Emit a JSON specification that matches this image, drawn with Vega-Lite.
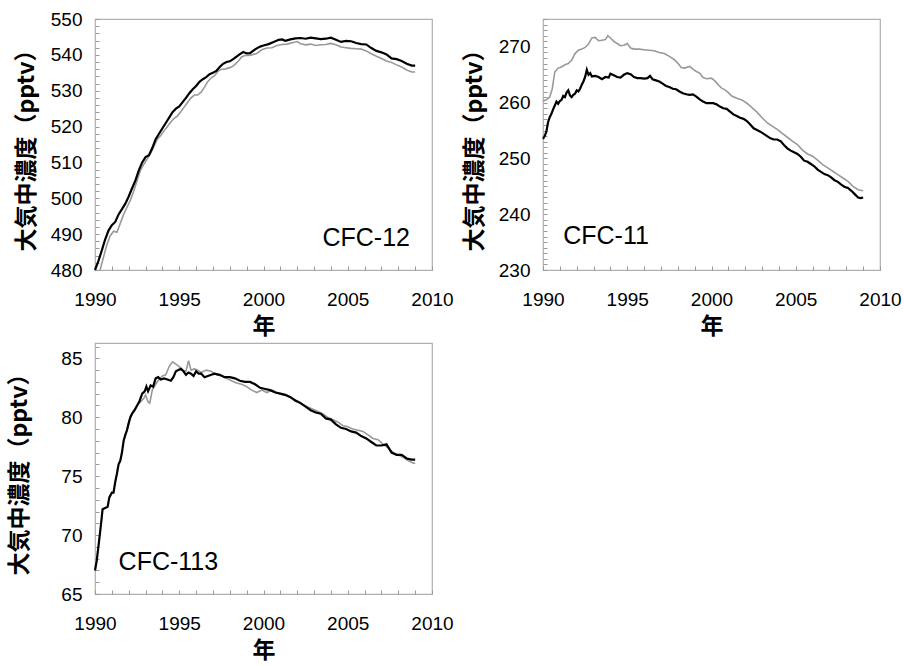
{
  "$schema": "https://vega.github.io/schema/vega-lite/v6.json",
  "background": "white",
  "padding": {"left": 8, "top": 9, "right": 5, "bottom": 0},
  "config": {
    "view": {"stroke": "#b0b0b0", "strokeWidth": 1.2},
    "axis": {
      "grid": false,
      "domain": false,
      "tickColor": "#9a9a9a",
      "tickSize": -4,
      "labelFont": "Liberation Sans",
      "labelFontSize": 19,
      "labelColor": "#000",
      "labelFlush": false,
      "titleFont": "Noto Sans CJK JP",
      "titleFontSize": 23,
      "titleFontWeight": "bold",
      "titleColor": "#000",
      "labelOverlap": false
    },
    "axisX": {"labelPadding": 24, "titlePadding": 6},
    "axisY": {"labelPadding": 17, "titlePadding": 12}
  },
  "datasets": {
    "cfc12": [
      {"x":1990.0,"y":480.0,"s":"a"},{"x":1990.2,"y":482.5,"s":"a"},{"x":1990.4,"y":485.4,"s":"a"},{"x":1990.6,"y":488.5,"s":"a"},{"x":1990.8,"y":491.0,"s":"a"},{"x":1991.0,"y":492.5,"s":"a"},{"x":1991.2,"y":493.4,"s":"a"},{"x":1991.4,"y":495.5,"s":"a"},{"x":1991.6,"y":497.0,"s":"a"},{"x":1991.8,"y":498.5,"s":"a"},{"x":1992.0,"y":500.5,"s":"a"},{"x":1992.2,"y":502.8,"s":"a"},{"x":1992.4,"y":505.0,"s":"a"},{"x":1992.6,"y":507.8,"s":"a"},{"x":1992.8,"y":510.0,"s":"a"},{"x":1993.0,"y":511.5,"s":"a"},{"x":1993.2,"y":512.0,"s":"a"},{"x":1993.4,"y":514.0,"s":"a"},{"x":1993.6,"y":516.5,"s":"a"},{"x":1993.8,"y":518.0,"s":"a"},{"x":1994.0,"y":519.5,"s":"a"},{"x":1994.2,"y":521.0,"s":"a"},{"x":1994.4,"y":522.5,"s":"a"},{"x":1994.6,"y":524.0,"s":"a"},{"x":1994.8,"y":525.0,"s":"a"},{"x":1995.0,"y":525.6,"s":"a"},{"x":1995.2,"y":526.8,"s":"a"},{"x":1995.4,"y":528.0,"s":"a"},{"x":1995.6,"y":529.3,"s":"a"},{"x":1995.8,"y":530.4,"s":"a"},{"x":1996.0,"y":531.3,"s":"a"},{"x":1996.2,"y":532.5,"s":"a"},{"x":1996.4,"y":533.2,"s":"a"},{"x":1996.6,"y":533.8,"s":"a"},{"x":1996.8,"y":534.6,"s":"a"},{"x":1997.0,"y":535.0,"s":"a"},{"x":1997.2,"y":535.5,"s":"a"},{"x":1997.4,"y":536.6,"s":"a"},{"x":1997.6,"y":537.5,"s":"a"},{"x":1997.8,"y":538.0,"s":"a"},{"x":1998.0,"y":538.2,"s":"a"},{"x":1998.2,"y":538.8,"s":"a"},{"x":1998.4,"y":539.5,"s":"a"},{"x":1998.6,"y":540.2,"s":"a"},{"x":1998.8,"y":540.8,"s":"a"},{"x":1999.0,"y":540.4,"s":"a"},{"x":1999.2,"y":540.5,"s":"a"},{"x":1999.4,"y":541.2,"s":"a"},{"x":1999.6,"y":541.8,"s":"a"},{"x":1999.8,"y":542.3,"s":"a"},{"x":2000.0,"y":542.6,"s":"a"},{"x":2000.3,"y":543.0,"s":"a"},{"x":2000.6,"y":543.6,"s":"a"},{"x":2000.9,"y":544.2,"s":"a"},{"x":2001.1,"y":544.3,"s":"a"},{"x":2001.3,"y":543.9,"s":"a"},{"x":2001.6,"y":544.3,"s":"a"},{"x":2001.9,"y":544.6,"s":"a"},{"x":2002.2,"y":544.7,"s":"a"},{"x":2002.5,"y":544.5,"s":"a"},{"x":2002.8,"y":544.8,"s":"a"},{"x":2003.1,"y":544.6,"s":"a"},{"x":2003.4,"y":544.4,"s":"a"},{"x":2003.7,"y":544.5,"s":"a"},{"x":2004.0,"y":544.8,"s":"a"},{"x":2004.3,"y":544.2,"s":"a"},{"x":2004.6,"y":543.6,"s":"a"},{"x":2004.9,"y":543.9,"s":"a"},{"x":2005.2,"y":543.8,"s":"a"},{"x":2005.5,"y":543.3,"s":"a"},{"x":2005.8,"y":543.0,"s":"a"},{"x":2006.1,"y":542.9,"s":"a"},{"x":2006.4,"y":541.9,"s":"a"},{"x":2006.7,"y":541.1,"s":"a"},{"x":2007.0,"y":540.7,"s":"a"},{"x":2007.3,"y":540.1,"s":"a"},{"x":2007.6,"y":539.0,"s":"a"},{"x":2007.9,"y":538.8,"s":"a"},{"x":2008.2,"y":538.3,"s":"a"},{"x":2008.5,"y":537.5,"s":"a"},{"x":2008.8,"y":537.0,"s":"a"},{"x":2009.0,"y":537.0,"s":"a"},
      {"x":1990.3,"y":480.0,"s":"b"},{"x":1990.5,"y":483.5,"s":"b"},{"x":1990.7,"y":487.0,"s":"b"},{"x":1990.9,"y":489.5,"s":"b"},{"x":1991.1,"y":490.8,"s":"b"},{"x":1991.3,"y":490.5,"s":"b"},{"x":1991.5,"y":493.0,"s":"b"},{"x":1991.7,"y":495.5,"s":"b"},{"x":1991.9,"y":497.5,"s":"b"},{"x":1992.1,"y":499.5,"s":"b"},{"x":1992.3,"y":502.0,"s":"b"},{"x":1992.5,"y":505.0,"s":"b"},{"x":1992.7,"y":507.8,"s":"b"},{"x":1992.9,"y":509.5,"s":"b"},{"x":1993.1,"y":511.0,"s":"b"},{"x":1993.3,"y":512.5,"s":"b"},{"x":1993.5,"y":514.5,"s":"b"},{"x":1993.7,"y":516.5,"s":"b"},{"x":1993.9,"y":517.5,"s":"b"},{"x":1994.1,"y":518.8,"s":"b"},{"x":1994.3,"y":520.0,"s":"b"},{"x":1994.5,"y":521.3,"s":"b"},{"x":1994.7,"y":522.3,"s":"b"},{"x":1994.9,"y":523.0,"s":"b"},{"x":1995.1,"y":524.2,"s":"b"},{"x":1995.3,"y":525.5,"s":"b"},{"x":1995.5,"y":526.8,"s":"b"},{"x":1995.7,"y":528.0,"s":"b"},{"x":1995.9,"y":528.8,"s":"b"},{"x":1996.1,"y":528.8,"s":"b"},{"x":1996.3,"y":529.6,"s":"b"},{"x":1996.5,"y":531.0,"s":"b"},{"x":1996.7,"y":532.6,"s":"b"},{"x":1996.9,"y":533.6,"s":"b"},{"x":1997.1,"y":534.2,"s":"b"},{"x":1997.3,"y":535.4,"s":"b"},{"x":1997.5,"y":536.0,"s":"b"},{"x":1997.7,"y":536.0,"s":"b"},{"x":1997.9,"y":536.3,"s":"b"},{"x":1998.1,"y":536.6,"s":"b"},{"x":1998.3,"y":537.3,"s":"b"},{"x":1998.5,"y":538.2,"s":"b"},{"x":1998.7,"y":539.4,"s":"b"},{"x":1998.9,"y":539.8,"s":"b"},{"x":1999.1,"y":539.8,"s":"b"},{"x":1999.3,"y":540.0,"s":"b"},{"x":1999.6,"y":540.4,"s":"b"},{"x":1999.9,"y":541.4,"s":"b"},{"x":2000.2,"y":541.9,"s":"b"},{"x":2000.5,"y":542.0,"s":"b"},{"x":2000.8,"y":542.6,"s":"b"},{"x":2001.1,"y":542.9,"s":"b"},{"x":2001.4,"y":543.0,"s":"b"},{"x":2001.7,"y":543.4,"s":"b"},{"x":2002.0,"y":543.7,"s":"b"},{"x":2002.2,"y":543.1,"s":"b"},{"x":2002.5,"y":542.8,"s":"b"},{"x":2002.8,"y":543.0,"s":"b"},{"x":2003.1,"y":542.6,"s":"b"},{"x":2003.4,"y":542.8,"s":"b"},{"x":2003.7,"y":542.9,"s":"b"},{"x":2004.0,"y":543.2,"s":"b"},{"x":2004.3,"y":542.8,"s":"b"},{"x":2004.6,"y":542.2,"s":"b"},{"x":2004.9,"y":542.0,"s":"b"},{"x":2005.2,"y":541.8,"s":"b"},{"x":2005.5,"y":541.7,"s":"b"},{"x":2005.8,"y":541.6,"s":"b"},{"x":2006.1,"y":541.1,"s":"b"},{"x":2006.4,"y":540.3,"s":"b"},{"x":2006.7,"y":539.6,"s":"b"},{"x":2007.0,"y":539.0,"s":"b"},{"x":2007.3,"y":538.3,"s":"b"},{"x":2007.6,"y":537.9,"s":"b"},{"x":2007.9,"y":537.2,"s":"b"},{"x":2008.2,"y":536.6,"s":"b"},{"x":2008.5,"y":535.8,"s":"b"},{"x":2008.8,"y":535.2,"s":"b"},{"x":2009.0,"y":535.2,"s":"b"}
    ],
    "cfc11": [
      {"x":1990.0,"y":260.3,"s":"b"},{"x":1990.2,"y":260.5,"s":"b"},{"x":1990.4,"y":261.0,"s":"b"},{"x":1990.55,"y":262.5,"s":"b"},{"x":1990.7,"y":265.5,"s":"b"},{"x":1990.9,"y":266.2,"s":"b"},{"x":1991.1,"y":266.4,"s":"b"},{"x":1991.3,"y":266.8,"s":"b"},{"x":1991.5,"y":267.0,"s":"b"},{"x":1991.7,"y":267.6,"s":"b"},{"x":1991.9,"y":268.8,"s":"b"},{"x":1992.1,"y":269.4,"s":"b"},{"x":1992.3,"y":269.6,"s":"b"},{"x":1992.5,"y":269.9,"s":"b"},{"x":1992.7,"y":270.5,"s":"b"},{"x":1992.9,"y":271.6,"s":"b"},{"x":1993.1,"y":271.7,"s":"b"},{"x":1993.3,"y":271.1,"s":"b"},{"x":1993.5,"y":271.2,"s":"b"},{"x":1993.7,"y":271.3,"s":"b"},{"x":1993.85,"y":272.0,"s":"b"},{"x":1994.0,"y":271.6,"s":"b"},{"x":1994.2,"y":271.0,"s":"b"},{"x":1994.4,"y":270.6,"s":"b"},{"x":1994.6,"y":270.2,"s":"b"},{"x":1994.8,"y":270.3,"s":"b"},{"x":1995.0,"y":270.6,"s":"b"},{"x":1995.2,"y":269.8,"s":"b"},{"x":1995.4,"y":269.6,"s":"b"},{"x":1995.7,"y":269.6,"s":"b"},{"x":1996.0,"y":269.5,"s":"b"},{"x":1996.3,"y":269.4,"s":"b"},{"x":1996.6,"y":269.3,"s":"b"},{"x":1996.9,"y":269.0,"s":"b"},{"x":1997.2,"y":268.8,"s":"b"},{"x":1997.5,"y":268.3,"s":"b"},{"x":1997.8,"y":267.7,"s":"b"},{"x":1998.0,"y":267.1,"s":"b"},{"x":1998.2,"y":266.3,"s":"b"},{"x":1998.4,"y":266.2,"s":"b"},{"x":1998.7,"y":266.5,"s":"b"},{"x":1998.9,"y":266.0,"s":"b"},{"x":1999.1,"y":265.6,"s":"b"},{"x":1999.3,"y":265.3,"s":"b"},{"x":1999.5,"y":264.5,"s":"b"},{"x":1999.7,"y":264.3,"s":"b"},{"x":2000.0,"y":264.4,"s":"b"},{"x":2000.2,"y":263.9,"s":"b"},{"x":2000.4,"y":263.2,"s":"b"},{"x":2000.6,"y":262.6,"s":"b"},{"x":2000.8,"y":262.3,"s":"b"},{"x":2001.0,"y":261.8,"s":"b"},{"x":2001.2,"y":261.2,"s":"b"},{"x":2001.5,"y":260.8,"s":"b"},{"x":2001.8,"y":260.5,"s":"b"},{"x":2002.1,"y":259.9,"s":"b"},{"x":2002.4,"y":259.1,"s":"b"},{"x":2002.7,"y":258.3,"s":"b"},{"x":2003.0,"y":257.3,"s":"b"},{"x":2003.3,"y":256.4,"s":"b"},{"x":2003.6,"y":255.8,"s":"b"},{"x":2003.9,"y":255.2,"s":"b"},{"x":2004.2,"y":254.5,"s":"b"},{"x":2004.5,"y":253.8,"s":"b"},{"x":2004.8,"y":253.1,"s":"b"},{"x":2005.1,"y":252.5,"s":"b"},{"x":2005.4,"y":251.5,"s":"b"},{"x":2005.7,"y":250.8,"s":"b"},{"x":2006.0,"y":250.4,"s":"b"},{"x":2006.3,"y":249.7,"s":"b"},{"x":2006.6,"y":248.9,"s":"b"},{"x":2006.9,"y":248.3,"s":"b"},{"x":2007.2,"y":247.7,"s":"b"},{"x":2007.5,"y":247.1,"s":"b"},{"x":2007.8,"y":246.5,"s":"b"},{"x":2008.1,"y":245.9,"s":"b"},{"x":2008.4,"y":245.0,"s":"b"},{"x":2008.7,"y":244.4,"s":"b"},{"x":2009.0,"y":244.2,"s":"b"},
      {"x":1990.0,"y":253.5,"s":"a"},{"x":1990.1,"y":254.0,"s":"a"},{"x":1990.2,"y":254.8,"s":"a"},{"x":1990.3,"y":256.5,"s":"a"},{"x":1990.4,"y":257.4,"s":"a"},{"x":1990.5,"y":258.0,"s":"a"},{"x":1990.6,"y":258.8,"s":"a"},{"x":1990.7,"y":259.5,"s":"a"},{"x":1990.8,"y":260.2,"s":"a"},{"x":1990.9,"y":259.8,"s":"a"},{"x":1991.0,"y":260.3,"s":"a"},{"x":1991.1,"y":260.5,"s":"a"},{"x":1991.2,"y":261.2,"s":"a"},{"x":1991.3,"y":261.0,"s":"a"},{"x":1991.4,"y":261.8,"s":"a"},{"x":1991.5,"y":262.2,"s":"a"},{"x":1991.6,"y":261.3,"s":"a"},{"x":1991.7,"y":261.0,"s":"a"},{"x":1991.8,"y":261.4,"s":"a"},{"x":1991.9,"y":261.6,"s":"a"},{"x":1992.0,"y":262.2,"s":"a"},{"x":1992.1,"y":262.0,"s":"a"},{"x":1992.2,"y":262.5,"s":"a"},{"x":1992.3,"y":263.2,"s":"a"},{"x":1992.4,"y":263.8,"s":"a"},{"x":1992.5,"y":264.6,"s":"a"},{"x":1992.6,"y":265.9,"s":"a"},{"x":1992.7,"y":265.0,"s":"a"},{"x":1992.8,"y":265.3,"s":"a"},{"x":1992.9,"y":264.7,"s":"a"},{"x":1993.1,"y":264.8,"s":"a"},{"x":1993.3,"y":264.6,"s":"a"},{"x":1993.5,"y":264.2,"s":"a"},{"x":1993.7,"y":264.6,"s":"a"},{"x":1993.9,"y":264.5,"s":"a"},{"x":1994.0,"y":265.2,"s":"a"},{"x":1994.2,"y":264.9,"s":"a"},{"x":1994.4,"y":264.6,"s":"a"},{"x":1994.6,"y":264.5,"s":"a"},{"x":1994.8,"y":265.0,"s":"a"},{"x":1995.0,"y":265.3,"s":"a"},{"x":1995.2,"y":265.1,"s":"a"},{"x":1995.4,"y":264.6,"s":"a"},{"x":1995.6,"y":264.4,"s":"a"},{"x":1995.8,"y":264.4,"s":"a"},{"x":1996.0,"y":264.3,"s":"a"},{"x":1996.2,"y":264.4,"s":"a"},{"x":1996.35,"y":264.8,"s":"a"},{"x":1996.5,"y":264.2,"s":"a"},{"x":1996.7,"y":264.0,"s":"a"},{"x":1996.9,"y":263.8,"s":"a"},{"x":1997.1,"y":263.4,"s":"a"},{"x":1997.3,"y":263.0,"s":"a"},{"x":1997.5,"y":262.8,"s":"a"},{"x":1997.7,"y":262.5,"s":"a"},{"x":1997.9,"y":262.4,"s":"a"},{"x":1998.1,"y":262.0,"s":"a"},{"x":1998.3,"y":261.7,"s":"a"},{"x":1998.5,"y":261.5,"s":"a"},{"x":1998.7,"y":261.4,"s":"a"},{"x":1998.9,"y":261.5,"s":"a"},{"x":1999.1,"y":261.1,"s":"a"},{"x":1999.3,"y":260.6,"s":"a"},{"x":1999.5,"y":260.2,"s":"a"},{"x":1999.7,"y":259.9,"s":"a"},{"x":1999.9,"y":259.9,"s":"a"},{"x":2000.1,"y":259.9,"s":"a"},{"x":2000.3,"y":259.7,"s":"a"},{"x":2000.5,"y":259.3,"s":"a"},{"x":2000.7,"y":259.0,"s":"a"},{"x":2000.9,"y":258.9,"s":"a"},{"x":2001.1,"y":258.4,"s":"a"},{"x":2001.3,"y":257.9,"s":"a"},{"x":2001.5,"y":257.6,"s":"a"},{"x":2001.7,"y":257.3,"s":"a"},{"x":2001.9,"y":257.1,"s":"a"},{"x":2002.1,"y":256.7,"s":"a"},{"x":2002.3,"y":256.1,"s":"a"},{"x":2002.5,"y":255.4,"s":"a"},{"x":2002.7,"y":255.1,"s":"a"},{"x":2002.9,"y":254.8,"s":"a"},{"x":2003.1,"y":254.4,"s":"a"},{"x":2003.3,"y":254.0,"s":"a"},{"x":2003.5,"y":253.6,"s":"a"},{"x":2003.7,"y":253.4,"s":"a"},{"x":2003.9,"y":253.4,"s":"a"},{"x":2004.1,"y":253.1,"s":"a"},{"x":2004.3,"y":252.4,"s":"a"},{"x":2004.5,"y":251.8,"s":"a"},{"x":2004.7,"y":251.4,"s":"a"},{"x":2004.9,"y":251.1,"s":"a"},{"x":2005.1,"y":250.8,"s":"a"},{"x":2005.3,"y":250.3,"s":"a"},{"x":2005.5,"y":249.6,"s":"a"},{"x":2005.7,"y":249.4,"s":"a"},{"x":2005.9,"y":249.0,"s":"a"},{"x":2006.1,"y":248.6,"s":"a"},{"x":2006.3,"y":248.0,"s":"a"},{"x":2006.5,"y":247.6,"s":"a"},{"x":2006.7,"y":247.2,"s":"a"},{"x":2006.9,"y":247.0,"s":"a"},{"x":2007.1,"y":246.6,"s":"a"},{"x":2007.3,"y":246.1,"s":"a"},{"x":2007.5,"y":245.8,"s":"a"},{"x":2007.7,"y":245.3,"s":"a"},{"x":2007.9,"y":244.9,"s":"a"},{"x":2008.1,"y":244.7,"s":"a"},{"x":2008.3,"y":244.2,"s":"a"},{"x":2008.5,"y":243.6,"s":"a"},{"x":2008.7,"y":243.0,"s":"a"},{"x":2008.85,"y":242.9,"s":"a"},{"x":2009.0,"y":243.0,"s":"a"}
    ],
    "cfc113": [
      {"x":1990.0,"y":67.0,"s":"a"},{"x":1990.1,"y":67.8,"s":"a"},{"x":1990.2,"y":69.0,"s":"a"},{"x":1990.3,"y":70.2,"s":"a"},{"x":1990.4,"y":71.5,"s":"a"},{"x":1990.45,"y":72.2,"s":"a"},{"x":1990.6,"y":72.3,"s":"a"},{"x":1990.75,"y":72.4,"s":"a"},{"x":1990.85,"y":73.2,"s":"a"},{"x":1991.0,"y":73.6,"s":"a"},{"x":1991.1,"y":73.6,"s":"a"},{"x":1991.2,"y":74.5,"s":"a"},{"x":1991.3,"y":75.2,"s":"a"},{"x":1991.4,"y":76.0,"s":"a"},{"x":1991.5,"y":76.3,"s":"a"},{"x":1991.6,"y":77.0,"s":"a"},{"x":1991.7,"y":78.0,"s":"a"},{"x":1991.8,"y":78.5,"s":"a"},{"x":1991.9,"y":78.9,"s":"a"},{"x":1992.0,"y":79.5,"s":"a"},{"x":1992.1,"y":80.0,"s":"a"},{"x":1992.2,"y":80.3,"s":"a"},{"x":1992.35,"y":80.6,"s":"a"},{"x":1992.5,"y":81.0,"s":"a"},{"x":1992.65,"y":81.4,"s":"a"},{"x":1992.8,"y":82.0,"s":"a"},{"x":1992.95,"y":82.2,"s":"a"},{"x":1993.05,"y":82.6,"s":"a"},{"x":1993.15,"y":82.2,"s":"a"},{"x":1993.3,"y":82.7,"s":"a"},{"x":1993.45,"y":82.6,"s":"a"},{"x":1993.6,"y":83.3,"s":"a"},{"x":1993.75,"y":83.4,"s":"a"},{"x":1993.9,"y":83.2,"s":"a"},{"x":1994.1,"y":83.3,"s":"a"},{"x":1994.3,"y":83.2,"s":"a"},{"x":1994.5,"y":83.1,"s":"a"},{"x":1994.65,"y":83.4,"s":"a"},{"x":1994.8,"y":83.9,"s":"a"},{"x":1994.95,"y":84.0,"s":"a"},{"x":1995.1,"y":84.1,"s":"a"},{"x":1995.25,"y":83.9,"s":"a"},{"x":1995.4,"y":83.6,"s":"a"},{"x":1995.55,"y":83.8,"s":"a"},{"x":1995.7,"y":83.7,"s":"a"},{"x":1995.85,"y":83.5,"s":"a"},{"x":1996.0,"y":83.9,"s":"a"},{"x":1996.15,"y":83.7,"s":"a"},{"x":1996.3,"y":83.7,"s":"a"},{"x":1996.5,"y":83.4,"s":"a"},{"x":1996.7,"y":83.5,"s":"a"},{"x":1996.9,"y":83.6,"s":"a"},{"x":1997.1,"y":83.7,"s":"a"},{"x":1997.4,"y":83.6,"s":"a"},{"x":1997.7,"y":83.4,"s":"a"},{"x":1998.0,"y":83.4,"s":"a"},{"x":1998.3,"y":83.3,"s":"a"},{"x":1998.6,"y":83.1,"s":"a"},{"x":1998.9,"y":83.0,"s":"a"},{"x":1999.2,"y":83.0,"s":"a"},{"x":1999.5,"y":82.8,"s":"a"},{"x":1999.8,"y":82.5,"s":"a"},{"x":2000.1,"y":82.4,"s":"a"},{"x":2000.4,"y":82.3,"s":"a"},{"x":2000.7,"y":82.1,"s":"a"},{"x":2001.0,"y":82.0,"s":"a"},{"x":2001.3,"y":81.9,"s":"a"},{"x":2001.6,"y":81.7,"s":"a"},{"x":2001.9,"y":81.4,"s":"a"},{"x":2002.2,"y":81.2,"s":"a"},{"x":2002.5,"y":80.9,"s":"a"},{"x":2002.8,"y":80.6,"s":"a"},{"x":2003.1,"y":80.4,"s":"a"},{"x":2003.4,"y":80.3,"s":"a"},{"x":2003.7,"y":79.9,"s":"a"},{"x":2004.0,"y":79.8,"s":"a"},{"x":2004.3,"y":79.4,"s":"a"},{"x":2004.6,"y":79.1,"s":"a"},{"x":2004.9,"y":79.0,"s":"a"},{"x":2005.2,"y":78.8,"s":"a"},{"x":2005.5,"y":78.7,"s":"a"},{"x":2005.8,"y":78.4,"s":"a"},{"x":2006.1,"y":78.2,"s":"a"},{"x":2006.4,"y":77.9,"s":"a"},{"x":2006.7,"y":77.6,"s":"a"},{"x":2007.0,"y":77.6,"s":"a"},{"x":2007.3,"y":77.7,"s":"a"},{"x":2007.6,"y":77.0,"s":"a"},{"x":2007.9,"y":76.8,"s":"a"},{"x":2008.2,"y":76.8,"s":"a"},{"x":2008.5,"y":76.5,"s":"a"},{"x":2008.8,"y":76.4,"s":"a"},{"x":2009.0,"y":76.4,"s":"a"},
      {"x":1991.9,"y":79.0,"s":"b"},{"x":1992.1,"y":80.1,"s":"b"},{"x":1992.3,"y":80.6,"s":"b"},{"x":1992.5,"y":81.0,"s":"b"},{"x":1992.7,"y":81.3,"s":"b"},{"x":1992.9,"y":81.6,"s":"b"},{"x":1993.0,"y":81.9,"s":"b"},{"x":1993.15,"y":81.3,"s":"b"},{"x":1993.25,"y":81.2,"s":"b"},{"x":1993.4,"y":82.3,"s":"b"},{"x":1993.6,"y":82.8,"s":"b"},{"x":1993.8,"y":83.2,"s":"b"},{"x":1994.0,"y":83.5,"s":"b"},{"x":1994.2,"y":83.6,"s":"b"},{"x":1994.4,"y":84.3,"s":"b"},{"x":1994.6,"y":84.7,"s":"b"},{"x":1994.8,"y":84.5,"s":"b"},{"x":1995.0,"y":84.3,"s":"b"},{"x":1995.2,"y":84.0,"s":"b"},{"x":1995.4,"y":83.9,"s":"b"},{"x":1995.55,"y":84.8,"s":"b"},{"x":1995.7,"y":84.0,"s":"b"},{"x":1995.9,"y":84.1,"s":"b"},{"x":1996.1,"y":84.0,"s":"b"},{"x":1996.3,"y":83.8,"s":"b"},{"x":1996.6,"y":84.0,"s":"b"},{"x":1996.9,"y":83.9,"s":"b"},{"x":1997.2,"y":83.6,"s":"b"},{"x":1997.5,"y":83.5,"s":"b"},{"x":1997.8,"y":83.3,"s":"b"},{"x":1998.1,"y":83.1,"s":"b"},{"x":1998.4,"y":82.9,"s":"b"},{"x":1998.7,"y":82.8,"s":"b"},{"x":1999.0,"y":82.6,"s":"b"},{"x":1999.3,"y":82.3,"s":"b"},{"x":1999.6,"y":82.1,"s":"b"},{"x":1999.9,"y":82.3,"s":"b"},{"x":2000.2,"y":82.1,"s":"b"},{"x":2000.5,"y":82.3,"s":"b"},{"x":2000.8,"y":82.1,"s":"b"},{"x":2001.1,"y":81.9,"s":"b"},{"x":2001.4,"y":81.8,"s":"b"},{"x":2001.7,"y":81.6,"s":"b"},{"x":2002.0,"y":81.4,"s":"b"},{"x":2002.3,"y":81.1,"s":"b"},{"x":2002.6,"y":80.9,"s":"b"},{"x":2002.9,"y":80.7,"s":"b"},{"x":2003.2,"y":80.5,"s":"b"},{"x":2003.5,"y":80.3,"s":"b"},{"x":2003.8,"y":80.0,"s":"b"},{"x":2004.1,"y":79.8,"s":"b"},{"x":2004.4,"y":79.6,"s":"b"},{"x":2004.7,"y":79.3,"s":"b"},{"x":2005.0,"y":79.2,"s":"b"},{"x":2005.3,"y":79.0,"s":"b"},{"x":2005.6,"y":78.9,"s":"b"},{"x":2005.9,"y":78.8,"s":"b"},{"x":2006.2,"y":78.5,"s":"b"},{"x":2006.5,"y":78.2,"s":"b"},{"x":2006.8,"y":78.1,"s":"b"},{"x":2007.1,"y":77.7,"s":"b"},{"x":2007.4,"y":77.4,"s":"b"},{"x":2007.7,"y":77.0,"s":"b"},{"x":2008.0,"y":76.8,"s":"b"},{"x":2008.3,"y":76.6,"s":"b"},{"x":2008.6,"y":76.3,"s":"b"},{"x":2008.9,"y":76.1,"s":"b"},{"x":2009.0,"y":76.1,"s":"b"}
    ]
  },
  "spacing": -3,
  "vconcat": [
    {
      "spacing": 8,
      "hconcat": [
        {
          "width": 337, "height": 251,
          "layer": [
            {
              "data": {"name": "cfc12"},
              "transform": [{"filter": "datum.s == 'b'"}],
              "mark": {"type": "line", "color": "#999999", "strokeWidth": 1.6},
              "encoding": {
                "x": {"field": "x", "type": "quantitative", "title": "年", "scale": {"domain": [1990, 2010], "nice": false},
                  "axis": {"tickCount": 100, "labelOverlap": false, "values": [1990,1991,1992,1993,1994,1995,1996,1997,1998,1999,2000,2001,2002,2003,2004,2005,2006,2007,2008,2009,2010], "labelExpr": "datum.value % 5 == 0 ? datum.value : ''"}},
                "y": {"field": "y", "type": "quantitative", "title": "大気中濃度（pptv）", "scale": {"domain": [480, 550], "nice": false, "zero": false},
                  "axis": {"tickCount": 100, "labelOverlap": false, "values": [480,482,484,486,488,490,492,494,496,498,500,502,504,506,508,510,512,514,516,518,520,522,524,526,528,530,532,534,536,538,540,542,544,546,548,550], "labelExpr": "datum.value % 10 == 0 ? datum.value : ''"}}
              }
            },
            {
              "data": {"name": "cfc12"},
              "transform": [{"filter": "datum.s == 'a'"}],
              "mark": {"type": "line", "color": "#000000", "strokeWidth": 2.2},
              "encoding": {"x": {"field": "x", "type": "quantitative"}, "y": {"field": "y", "type": "quantitative"}}
            },
            {
              "data": {"values": [{"label": "CFC-12"}]},
              "mark": {"type": "text", "align": "left", "baseline": "alphabetic", "font": "Liberation Sans", "fontSize": 25, "color": "#000"},
              "encoding": {"x": {"datum": 2003.5}, "y": {"datum": 486.7}, "text": {"field": "label"}}
            }
          ]
        },
        {
          "width": 337, "height": 251,
          "layer": [
            {
              "data": {"name": "cfc11"},
              "transform": [{"filter": "datum.s == 'b'"}],
              "mark": {"type": "line", "color": "#999999", "strokeWidth": 1.6},
              "encoding": {
                "x": {"field": "x", "type": "quantitative", "title": "年", "scale": {"domain": [1990, 2010], "nice": false},
                  "axis": {"tickCount": 100, "labelOverlap": false, "values": [1990,1991,1992,1993,1994,1995,1996,1997,1998,1999,2000,2001,2002,2003,2004,2005,2006,2007,2008,2009,2010], "labelExpr": "datum.value % 5 == 0 ? datum.value : ''"}},
                "y": {"field": "y", "type": "quantitative", "title": "大気中濃度（pptv）", "scale": {"domain": [230, 275], "nice": false, "zero": false},
                  "axis": {"tickCount": 100, "labelOverlap": false, "values": [230,231,232,233,234,235,236,237,238,239,240,241,242,243,244,245,246,247,248,249,250,251,252,253,254,255,256,257,258,259,260,261,262,263,264,265,266,267,268,269,270,271,272,273,274,275], "labelExpr": "datum.value % 10 == 0 ? datum.value : ''"}}
              }
            },
            {
              "data": {"name": "cfc11"},
              "transform": [{"filter": "datum.s == 'a'"}],
              "mark": {"type": "line", "color": "#000000", "strokeWidth": 2.2},
              "encoding": {"x": {"field": "x", "type": "quantitative"}, "y": {"field": "y", "type": "quantitative"}}
            },
            {
              "data": {"values": [{"label": "CFC-11"}]},
              "mark": {"type": "text", "align": "left", "baseline": "alphabetic", "font": "Liberation Sans", "fontSize": 25, "color": "#000"},
              "encoding": {"x": {"datum": 1991.2}, "y": {"datum": 234.7}, "text": {"field": "label"}}
            }
          ]
        }
      ]
    },
    {
      "width": 337, "height": 251,
      "layer": [
        {
          "data": {"name": "cfc113"},
          "transform": [{"filter": "datum.s == 'b'"}],
          "mark": {"type": "line", "color": "#999999", "strokeWidth": 1.6},
          "encoding": {
            "x": {"field": "x", "type": "quantitative", "title": "年", "scale": {"domain": [1990, 2010], "nice": false},
              "axis": {"tickCount": 100, "labelOverlap": false, "values": [1990,1991,1992,1993,1994,1995,1996,1997,1998,1999,2000,2001,2002,2003,2004,2005,2006,2007,2008,2009,2010], "labelExpr": "datum.value % 5 == 0 ? datum.value : ''"}},
            "y": {"field": "y", "type": "quantitative", "title": "大気中濃度（pptv）", "scale": {"domain": [65, 86.3], "nice": false, "zero": false},
              "axis": {"tickCount": 100, "labelOverlap": false, "titlePadding": 29, "values": [65,66,67,68,69,70,71,72,73,74,75,76,77,78,79,80,81,82,83,84,85,86], "labelExpr": "datum.value % 5 == 0 ? datum.value : ''"}}
          }
        },
        {
          "data": {"name": "cfc113"},
          "transform": [{"filter": "datum.s == 'a'"}],
          "mark": {"type": "line", "color": "#000000", "strokeWidth": 2.2},
          "encoding": {"x": {"field": "x", "type": "quantitative"}, "y": {"field": "y", "type": "quantitative"}}
        },
        {
          "data": {"values": [{"label": "CFC-113"}]},
          "mark": {"type": "text", "align": "left", "baseline": "alphabetic", "font": "Liberation Sans", "fontSize": 25, "color": "#000"},
          "encoding": {"x": {"datum": 1991.4}, "y": {"datum": 67.0}, "text": {"field": "label"}}
        }
      ]
    }
  ]
}
